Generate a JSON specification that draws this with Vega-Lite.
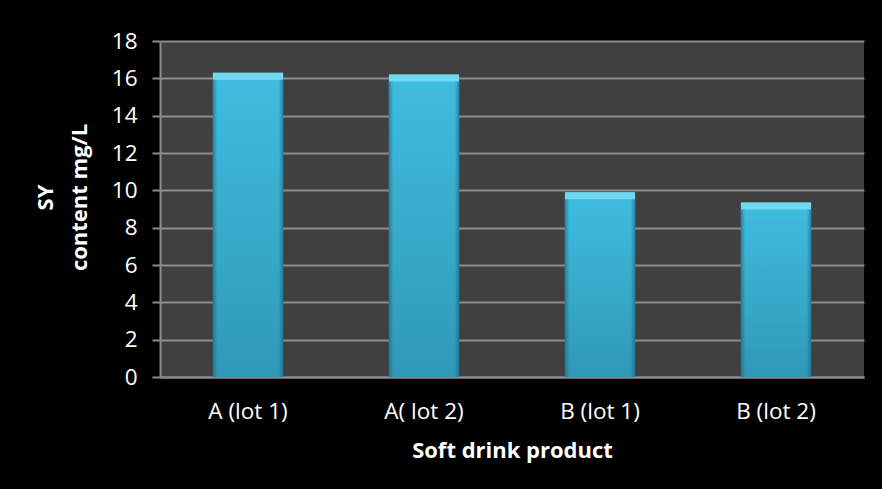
{
  "$schema": "https://vega.github.io/schema/vega-lite/v6.json",
  "autosize": {"type": "none"},
  "width": 704,
  "height": 336,
  "padding": {"left": 160, "top": 41, "right": 18, "bottom": 112},
  "background": "#000000",
  "config": {
    "font": "Open Sans",
    "view": {"fill": "#404040", "stroke": null},
    "axis": {
      "labelColor": "#ffffff",
      "titleColor": "#ffffff",
      "domainColor": "#8c8c8c",
      "domainWidth": 2,
      "tickColor": "#8c8c8c",
      "tickWidth": 2,
      "gridColor": "#8c8c8c",
      "gridWidth": 2
    }
  },
  "data": {
    "values": [
      {"product": "A (lot 1)", "sy": 16.3},
      {"product": "A( lot 2)", "sy": 16.2},
      {"product": "B (lot 1)", "sy": 9.9},
      {"product": "B (lot 2)", "sy": 9.35}
    ]
  },
  "encoding": {
    "x": {
      "field": "product",
      "type": "nominal",
      "sort": null,
      "scale": {"paddingInner": 0.6, "paddingOuter": 0.3},
      "axis": {
        "title": "Soft drink product",
        "labelAngle": 0,
        "labelFontSize": 22.5,
        "labelPadding": 23,
        "ticks": false,
        "titleFontSize": 22,
        "titleFontWeight": "bold",
        "titlePadding": 18
      }
    },
    "y": {
      "field": "sy",
      "type": "quantitative",
      "scale": {"domain": [0, 18], "nice": false},
      "axis": {
        "title": ["SY", "content mg/L"],
        "values": [0, 2, 4, 6, 8, 10, 12, 14, 16, 18],
        "tickSize": 8,
        "labelFontSize": 22.5,
        "labelPadding": 15,
        "titleFontSize": 22,
        "titleFontWeight": "bold",
        "titleLineHeight": 34,
        "titlePadding": 20,
        "titleY": 156
      }
    }
  },
  "layer": [
    {
      "mark": {
        "type": "bar",
        "color": {
          "gradient": "linear",
          "x1": 0, "y1": 0, "x2": 0, "y2": 1,
          "stops": [
            {"offset": 0, "color": "#3fbde0"},
            {"offset": 1, "color": "#2f98b6"}
          ]
        }
      }
    },
    {
      "mark": {
        "type": "bar",
        "color": {
          "gradient": "linear",
          "x1": 0, "y1": 0, "x2": 1, "y2": 0,
          "stops": [
            {"offset": 0, "color": "rgba(20,80,100,0.55)"},
            {"offset": 0.06, "color": "rgba(20,80,100,0)"},
            {"offset": 0.94, "color": "rgba(20,80,100,0)"},
            {"offset": 1, "color": "rgba(20,80,100,0.55)"}
          ]
        }
      }
    },
    {
      "mark": {"type": "tick", "orient": "horizontal", "thickness": 7, "color": "#72d8f0", "opacity": 1},
      "encoding": {
        "yOffset": {"value": 3.5},
        "size": {"value": 70}
      }
    }
  ]
}
